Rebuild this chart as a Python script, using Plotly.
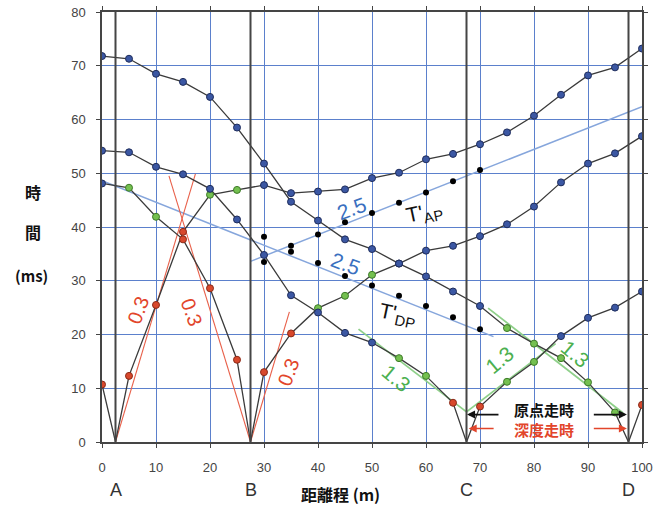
import plotly.graph_objects as go

# ---------------- data ----------------
dist = [0, 5, 10, 15, 20, 25, 30, 35, 40, 45, 50, 55, 60, 65, 70, 75, 80, 85, 90, 95, 100]
shot_names = ["A", "B", "C", "D"]
shot_x = [2.5, 27.5, 67.5, 97.5]

# travel times (ms) for each shot, at every receiver
t_A = [10.7, 12.3, 25.5, 39.1, 46.0, 46.9, 47.8, 46.3, 46.6, 47.0, 49.1, 50.1, 52.6, 53.6, 55.4, 57.6, 60.7, 64.6, 68.2, 69.7, 73.2]
t_B = [48.1, 47.3, 41.9, 37.7, 28.6, 15.3, 13.0, 20.2, 24.9, 27.2, 31.1, 33.2, 35.6, 36.5, 38.3, 40.5, 43.8, 48.3, 51.8, 53.7, 56.9]
t_C = [54.2, 53.9, 51.2, 49.8, 47.1, 41.4, 34.8, 27.3, 24.1, 20.3, 18.5, 15.6, 12.3, 7.3, 6.6, 11.2, 14.9, 19.7, 23.1, 25.0, 28.0]
t_D = [71.8, 71.3, 68.5, 67.0, 64.2, 58.5, 51.8, 44.7, 41.2, 37.7, 35.9, 33.2, 30.8, 28.0, 25.3, 21.2, 18.3, 15.6, 11.1, 5.5, 6.9]
# layer class of each point: r = surface (0.3), g = 1.3 layer, b = 2.5 layer
cls_A = "rrrrggbbbbbbbbbbbbbbb"
cls_B = "bggrrrrrgggbbbbbbbbbb"
cls_C = "bbbbbbbbbbbggrrggbbbb"
cls_D = "bbbbbbbbbbbbbbbgggggr"

# T' points (ms)
tp_x = [30, 35, 40, 45, 50, 55, 60, 65, 70]
tap_y = [33.5, 35.4, 38.6, 40.9, 42.6, 44.5, 46.4, 48.5, 50.6]
tdp_y = [38.2, 36.5, 33.3, 30.9, 29.1, 27.2, 25.3, 23.2, 21.0]

# velocity guide lines (x pairs, y pairs)
v25_lines = [([27.5, 100], [33.6, 62.4]), ([0, 72.5], [48.6, 19.6])]
v03_lines = [([2.5, 17.3], [0, 49.9]), ([27.5, 12.4], [0, 49.5]), ([27.5, 34.7], [0, 24.2])]
v13_lines = [([47.5, 67.5], [21.0, 5.6]), ([67.5, 84.0], [5.6, 18.3]), ([71.5, 96.5], [24.9, 5.4])]

# ---------------- styling ----------------
LINE = "#3a3a3a"
GRID = "#5b80cc"
FRAME = "#454545"
FILL = {"r": "#d8482c", "g": "#74c050", "b": "#3b57a3"}
EDGE = {"r": "#8a2a18", "g": "#3d7a28", "b": "#1f2d5c"}
RED_T = "#e2452b"
GRN_T = "#4cb050"
BLU_T = "#3a70c0"

fig = go.Figure()

for xs, ys in v25_lines:
    fig.add_trace(go.Scatter(x=xs, y=ys, mode="lines", line=dict(color="#86a6dc", width=1.5), hoverinfo="skip"))
for xs, ys in v03_lines:
    fig.add_trace(go.Scatter(x=xs, y=ys, mode="lines", line=dict(color="#e8604a", width=1.1), hoverinfo="skip"))
for xs, ys in v13_lines:
    fig.add_trace(go.Scatter(x=xs, y=ys, mode="lines", line=dict(color="#8fd08a", width=1.8), hoverinfo="skip"))

shots = [t_A, t_B, t_C, t_D]
classes = [cls_A, cls_B, cls_C, cls_D]
for sx, ts in zip(shot_x, shots):
    px, py = [], []
    for d, t in zip(dist, ts):
        if d > sx and (not px or px[-1] < sx):
            px.append(sx); py.append(0)
        px.append(d); py.append(t)
    fig.add_trace(go.Scatter(x=px, y=py, mode="lines", line=dict(color=LINE, width=1.3), hoverinfo="skip"))

for ts, cl in zip(shots, classes):
    fig.add_trace(go.Scatter(
        x=dist, y=ts, mode="markers",
        marker=dict(size=7, color=[FILL[c] for c in cl], line=dict(color=[EDGE[c] for c in cl], width=1)),
        hoverinfo="skip"))

fig.add_trace(go.Scatter(x=tp_x, y=tap_y, mode="markers", marker=dict(size=6, color="black"), hoverinfo="skip"))
fig.add_trace(go.Scatter(x=tp_x, y=tdp_y, mode="markers", marker=dict(size=6, color="black"), hoverinfo="skip"))

# shot-point vertical lines
for sx in shot_x:
    fig.add_shape(type="line", x0=sx, x1=sx, y0=0, y1=80, xref="x", yref="y",
                  line=dict(color=FRAME, width=2), layer="above")

ann = []
def txt(x, y, s, color, size, angle=0, bold=False, xref="x", yref="y", family="Liberation Sans, Arial"):
    ann.append(dict(x=x, y=y, xref=xref, yref=yref, text=("<b>%s</b>" % s) if bold else s,
                    xanchor="center", yanchor="middle",
                    showarrow=False, textangle=angle, font=dict(color=color, size=size, family=family)))

txt(6.7, 24.6, "0.3", RED_T, 20, -70)
txt(16.6, 24.2, "0.3", RED_T, 20, 70)
txt(34.5, 13.1, "0.3", RED_T, 20, -70)
txt(46.2, 43.5, "2.5", BLU_T, 21, -20)
txt(45.0, 33.2, "2.5", BLU_T, 21, 20)
txt(59.8, 42.6, "T'<sub>AP</sub>", "#111", 21, -12)
txt(54.8, 23.6, "T'<sub>DP</sub>", "#111", 21, 12)
txt(54.6, 11.9, "1.3", GRN_T, 21, 40)
txt(73.7, 15.3, "1.3", GRN_T, 21, -40)
txt(87.6, 16.5, "1.3", GRN_T, 21, 40)

CJK = "Noto Sans CJK JP, Noto Sans CJK SC"
txt(81.8, 4.25,
    "<b>原点走時</b><br><span style='color:%s'><b>深度走時</b></span>" % RED_T,
    "#111", 15, family=CJK)

def arrow(x_head, x_tail, y, color):
    ann.append(dict(x=x_head, y=y, ax=x_tail, ay=y, xref="x", yref="y", axref="x", ayref="y",
                    text="", showarrow=True, arrowhead=2, arrowsize=1, arrowwidth=1.6, arrowcolor=color))

arrow(67.6, 73.7, 5.1, "#111")
arrow(97.2, 90.8, 5.1, "#111")
arrow(67.9, 72.8, 2.5, RED_T)
arrow(97.2, 90.8, 2.5, RED_T)

# axis titles and shot letters
txt(-0.128, 0.582, "時", "#111", 16, bold=True, xref="paper", yref="paper", family=CJK)
txt(-0.128, 0.489, "間", "#111", 16, bold=True, xref="paper", yref="paper", family=CJK)
txt(-0.130, 0.388, "(ms)", "#111", 15, bold=True, xref="paper", yref="paper", family=CJK)
txt(0.441, -0.121, "距離程 (m)", "#111", 16, bold=True, xref="paper", yref="paper", family=CJK)
for name, sx in zip(shot_names, shot_x):
    txt(sx, -0.112, name, "#333", 18, xref="x", yref="paper")

fig.update_layout(
    width=662, height=506,
    margin=dict(l=102, r=20, t=12, b=64, autoexpand=False),
    paper_bgcolor="white", plot_bgcolor="white",
    showlegend=False,
    annotations=ann,
    font=dict(family="Liberation Sans, Arial", size=13, color="#444"),
)
fig.update_xaxes(range=[0, 100], dtick=10, showgrid=True, gridcolor=GRID, gridwidth=1,
                 showline=True, linecolor=FRAME, linewidth=1.5, mirror="ticks",
                 ticks="outside", ticklen=4, tickcolor=FRAME, zeroline=False,
                 ticklabelstandoff=9, tickfont=dict(size=13, color="#444"))
fig.update_yaxes(range=[0, 80], dtick=10, showgrid=True, gridcolor=GRID, gridwidth=1,
                 showline=True, linecolor=FRAME, linewidth=1.5, mirror="ticks",
                 ticks="outside", ticklen=4, tickcolor=FRAME, zeroline=False,
                 ticklabelstandoff=8, tickfont=dict(size=13, color="#444"))

fig.write_html("out.html")
